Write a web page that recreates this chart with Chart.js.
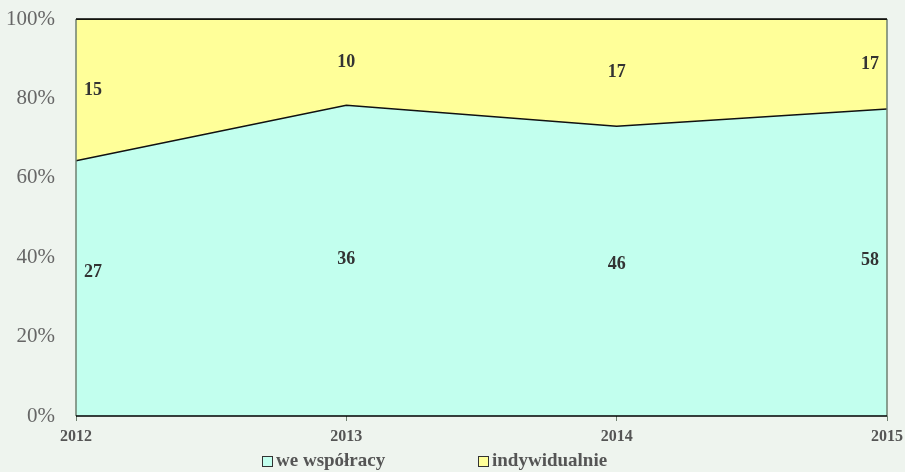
<!DOCTYPE html>
<html>
<head>
<meta charset="utf-8">
<script src="https://cdn.jsdelivr.net/npm/chart.js@4.4.1/dist/chart.umd.min.js"></script>
<style>
  html, body { margin: 0; padding: 0; background: #eef4ee; }
  #wrap { width: 905px; height: 472px; position: relative; }
</style>
</head>
<body>
<div id="wrap"><canvas id="areaChart"></canvas></div>
<script>
// Data
const years = ["2012", "2013", "2014", "2015"];
const wspolpraca = [27, 36, 46, 58];
const indywidualnie = [15, 10, 17, 17];
const yTicks = [0, 20, 40, 60, 80, 100];

const seriesNames = ["we współracy", "indywidualnie"];
const fillColors = ["#c2ffee", "#ffff99"];

// 100% stacked shares
const totals = years.map((y, i) => wspolpraca[i] + indywidualnie[i]);
const pctWsp = wspolpraca.map((v, i) => (v / totals[i]) * 100);
const pctInd = indywidualnie.map((v, i) => (v / totals[i]) * 100);

const serif = "'Liberation Serif', 'Times New Roman', serif";

// frame, value labels and legend
const extras = {
  id: "extras",
  afterDatasetsDraw(chart) {
    const { ctx, chartArea: a, scales } = chart;
    ctx.save();
    ctx.lineWidth = 1.5;
    ctx.strokeStyle = "#6f8070";
    ctx.beginPath();
    ctx.moveTo(a.left, a.top); ctx.lineTo(a.left, a.bottom);
    ctx.moveTo(a.right, a.top); ctx.lineTo(a.right, a.bottom);
    ctx.stroke();
    ctx.strokeStyle = "#000";
    ctx.beginPath();
    ctx.moveTo(a.left, a.top); ctx.lineTo(a.right, a.top);
    ctx.moveTo(a.left, a.bottom); ctx.lineTo(a.right, a.bottom);
    ctx.stroke();

    // value labels
    ctx.font = "bold 18px " + serif;
    ctx.fillStyle = "#333";
    ctx.textBaseline = "middle";
    years.forEach((y, i) => {
      const x = scales.x.getPixelForValue(i);
      let align = "center", dx = 0;
      if (i === 0) { align = "left"; dx = 8; }
      if (i === years.length - 1) { align = "right"; dx = -8; }
      ctx.textAlign = align;
      const low = (pctWsp[i] / 2 + 40) / 2;
      ctx.fillText(String(wspolpraca[i]), x + dx, scales.y.getPixelForValue(low));
      const high = pctWsp[i] + pctInd[i] / 2;
      ctx.fillText(String(indywidualnie[i]), x + dx, scales.y.getPixelForValue(high));
    });

    // legend
    ctx.font = "bold 19px " + serif;
    ctx.textAlign = "left";
    const legendY = 461;
    const starts = [262, 478];
    seriesNames.forEach((name, k) => {
      const bx = starts[k];
      ctx.fillStyle = fillColors[k];
      ctx.fillRect(bx, legendY - 5, 10, 10);
      ctx.lineWidth = 1;
      ctx.strokeStyle = "#333";
      ctx.strokeRect(bx + 0.5, legendY - 4.5, 10, 10);
      ctx.fillStyle = "#555";
      ctx.fillText(name, bx + 14, legendY);
    });
    ctx.restore();
  }
};

new Chart(document.getElementById("areaChart"), {
  type: "line",
  data: {
    labels: years,
    datasets: [
      {
        label: seriesNames[0],
        data: pctWsp,
        backgroundColor: fillColors[0],
        borderColor: "#111",
        borderWidth: 1.5,
        fill: "origin",
        pointRadius: 0,
        tension: 0
      },
      {
        label: seriesNames[1],
        data: pctInd,
        backgroundColor: fillColors[1],
        borderColor: "#111",
        borderWidth: 1.5,
        fill: "-1",
        pointRadius: 0,
        tension: 0
      }
    ]
  },
  options: {
    responsive: true,
    maintainAspectRatio: false,
    animation: false,
    layout: { padding: { top: 19, right: 18, bottom: 26, left: 0 } },
    plugins: {
      legend: { display: false },
      tooltip: { enabled: false }
    },
    scales: {
      x: {
        offset: false,
        grid: { display: true, drawOnChartArea: false, drawTicks: true, tickLength: 5, color: "#6f8070" },
        border: { display: false },
        ticks: {
          color: "#555",
          font: { family: serif, size: 16, weight: "bold" },
          padding: 6,
          maxRotation: 0
        },
        afterFit(scale) {
          scale.height = 30;
          scale.paddingLeft = 0;
          scale.paddingRight = 0;
        }
      },
      y: {
        stacked: true,
        min: 0,
        max: 100,
        grid: { display: false },
        border: { display: false },
        afterBuildTicks(scale) { scale.ticks = yTicks.map(v => ({ value: v })); },
        ticks: {
          color: "#666",
          font: { family: serif, size: 21 },
          padding: 13,
          callback: v => v + "%"
        },
        afterFit(scale) {
          scale.width = 76;
          scale.paddingTop = 0;
          scale.paddingBottom = 0;
        }
      }
    }
  },
  plugins: [extras]
});
</script>
</body>
</html>
